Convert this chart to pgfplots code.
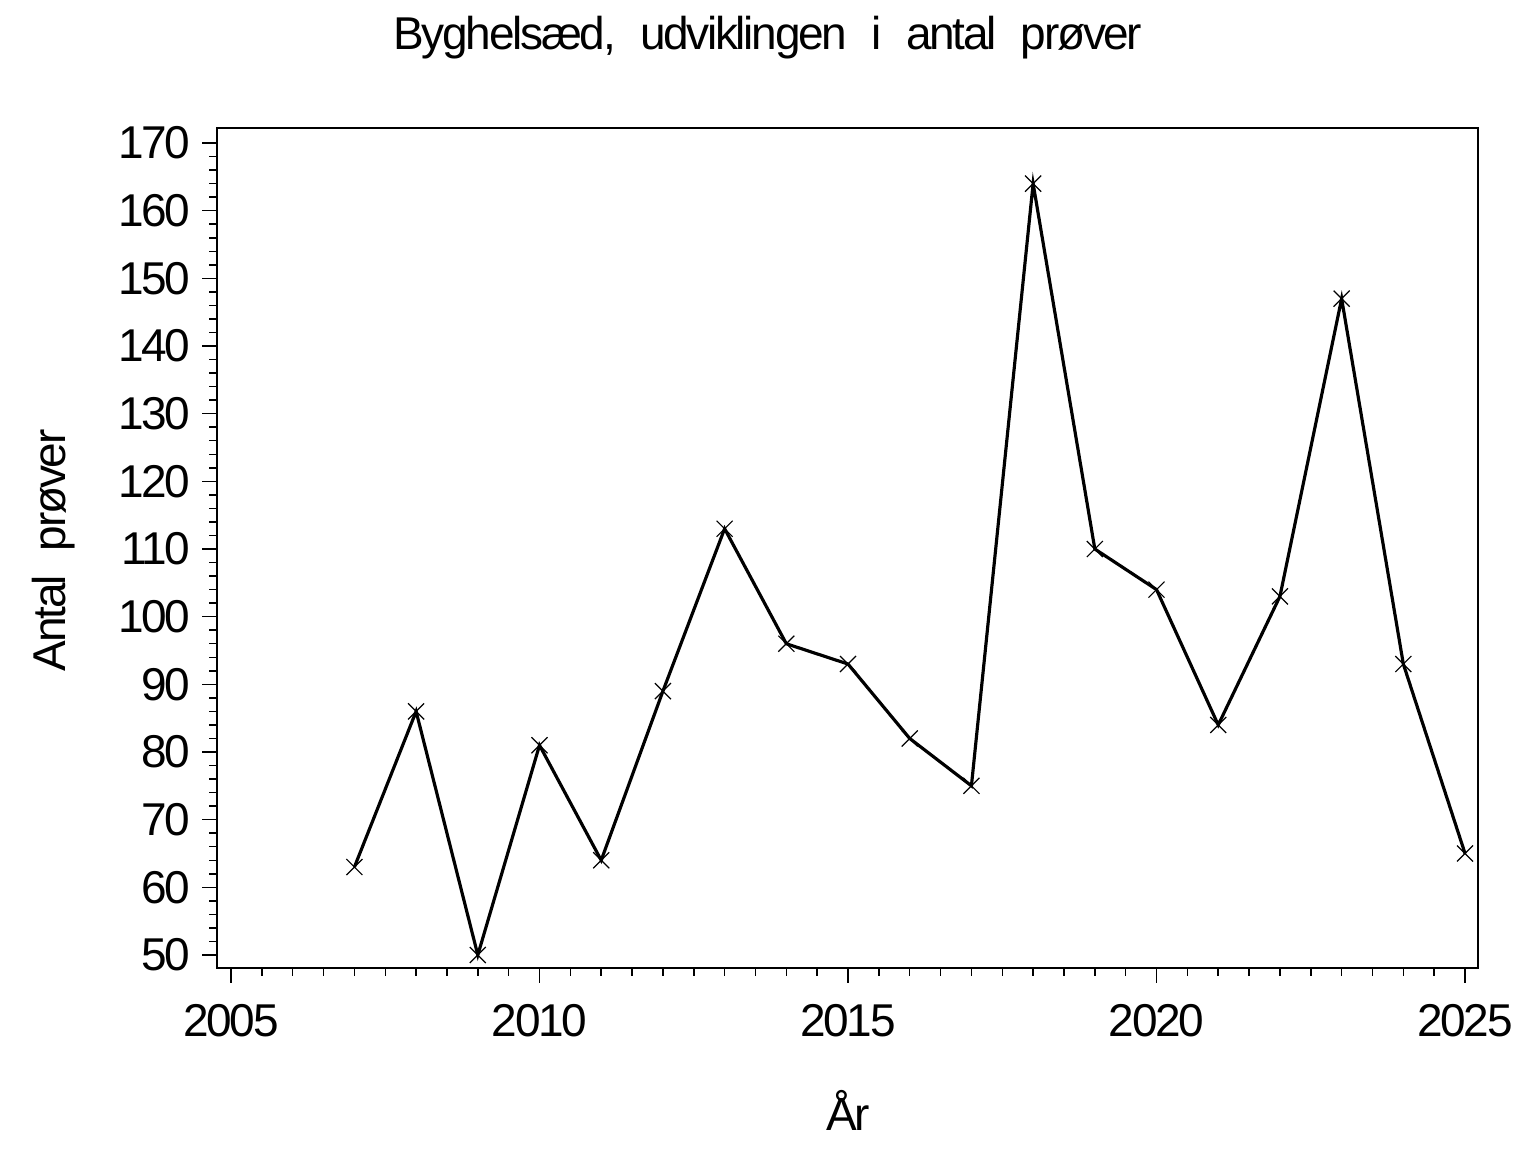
\documentclass[border=0pt]{standalone}
\usepackage{pgfplots}
\pgfplotsset{compat=1.18}
\usepackage{fontspec}
\setmainfont{Liberation Sans}
\newfontfamily\sasf[LetterSpace=-5]{Liberation Sans}
\newcommand{\bigf}{\sasf\fontsize{13.8}{16}\selectfont}
\newcommand{\ws}{\hspace{7.3pt}}
\begin{document}
\begin{tikzpicture}
\useasboundingbox (0,0) rectangle (460.8pt,345.6pt);
\begin{axis}[
  at={(65.1pt,55.2pt)}, anchor=south west,
  width=378.3pt, height=252pt, scale only axis,
  xmin=2004.773, xmax=2025.21,
  ymin=48.08, ymax=172.22,
  xtick={2005,2010,2015,2020,2025},
  minor xtick={2005.5,2006,...,2025},
  ytick={50,60,...,170},
  minor ytick={52,54,...,170},
  tick align=outside,
  xtick pos=left, ytick pos=left,
  major tick length=4.4pt, minor tick length=2.3pt,
  every tick/.style={black, line width=0.45pt},
  axis line style={line width=0.45pt},
  /pgf/number format/assume math mode=true,
  /pgf/number format/1000 sep={},
  tick label style={font=\bigf},
  xticklabel style={yshift=-3pt},
  clip=false,
]
\addplot[black, line width=0.95pt, mark=x, mark size=3.4pt, mark options={line width=0.35pt}]
coordinates {
(2007,63) (2008,86) (2009,50) (2010,81) (2011,64) (2012,89) (2013,113)
(2014,96) (2015,93) (2016,82) (2017,75) (2018,164) (2019,110) (2020,104)
(2021,84) (2022,103) (2023,147) (2024,93) (2025,65)
};
\end{axis}
\node[font=\bigf] at (230.4pt,334.2pt) {Byghelsæd,\ws udviklingen\ws i\ws antal\ws prøver};
\node[font=\bigf] at (254.4pt,12.6pt) {År};
\node[font=\bigf, rotate=90] at (16pt,180.5pt) {Antal\ws prøver};
\end{tikzpicture}
\end{document}
